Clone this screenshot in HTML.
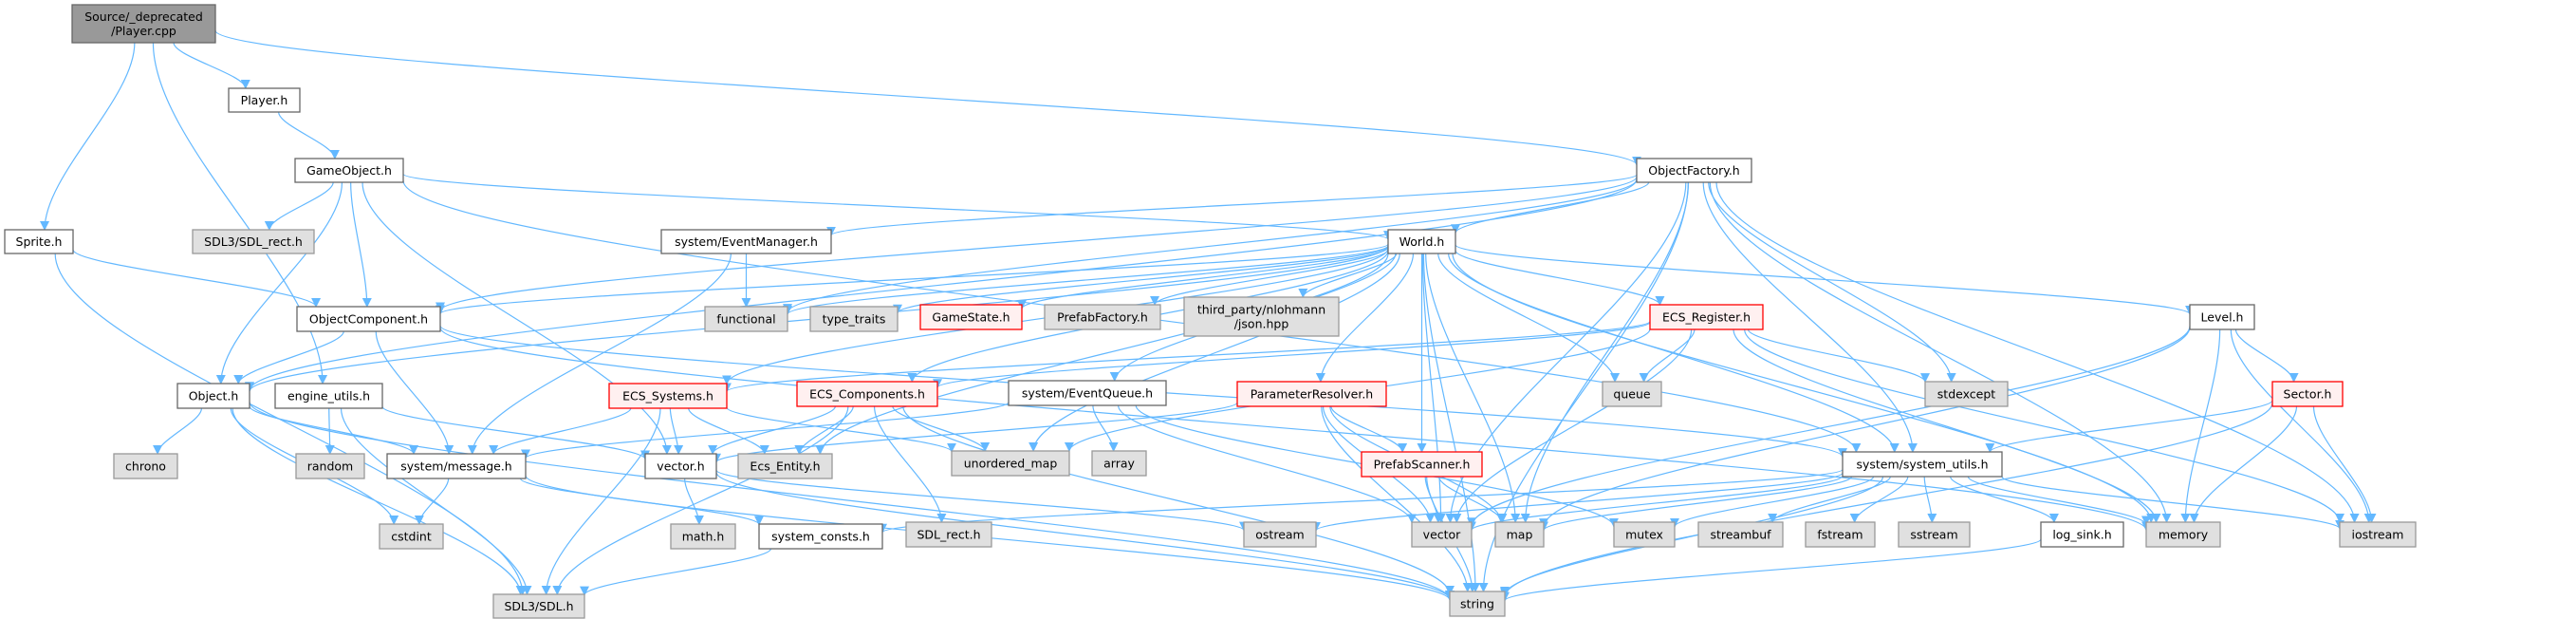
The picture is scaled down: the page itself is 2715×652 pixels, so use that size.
<!DOCTYPE html>
<html><head><meta charset="utf-8"><style>
html,body{margin:0;padding:0;background:#fff;width:2715px;height:652px;overflow:hidden}
svg text{font-family:"DejaVu Sans","Liberation Sans",sans-serif;font-size:12.5px;fill:#000}
</style></head><body>
<svg id="g" width="2715" height="652" xmlns="http://www.w3.org/2000/svg">
<defs><marker id="a" viewBox="0 0 10 10" refX="9" refY="5" markerWidth="10" markerHeight="10" markerUnits="userSpaceOnUse" orient="auto"><path d="M0,0 L10,5 L0,10 z" fill="#63b8ff"/></marker></defs>
<g id="edges" fill="none" stroke="#63b8ff" stroke-width="1.2"></g>
<g id="nodes"></g>
</svg>
<script>
var N={
cpp:[76,5,227,45,"Source/_deprecated|/Player.cpp","r"],
PlayerH:[241,93,316,118,"Player.h","w"],
GO:[311,167,425,192,"GameObject.h","w"],
OF:[1725,167,1846,192,"ObjectFactory.h","w"],
Sprite:[5,242,77,267,"Sprite.h","w"],
SDLrect3:[203,242,331,267,"SDL3/SDL_rect.h","g"],
EvM:[697,242,876,267,"system/EventManager.h","w"],
World:[1463,242,1534,267,"World.h","w"],
OC:[313,323,464,349,"ObjectComponent.h","w"],
functional:[743,323,830,349,"functional","g"],
type_traits:[854,323,946,349,"type_traits","g"],
GameState:[970,321,1077,347,"GameState.h","red"],
PrefabFactory:[1101,321,1223,347,"PrefabFactory.h","g"],
json:[1248,313,1411,354,"third_party/nlohmann|/json.hpp","g"],
ECSReg:[1739,321,1858,347,"ECS_Register.h","red"],
Level:[2308,321,2376,347,"Level.h","w"],
Object:[187,404,263,430,"Object.h","w"],
engine:[290,404,403,430,"engine_utils.h","w"],
ECSSys:[642,404,766,430,"ECS_Systems.h","red"],
ECSComp:[840,402,988,428,"ECS_Components.h","red"],
EvQ:[1063,401,1229,427,"system/EventQueue.h","w"],
ParamRes:[1304,402,1461,428,"ParameterResolver.h","red"],
queue:[1689,402,1751,428,"queue","g"],
stdexcept:[2029,402,2116,428,"stdexcept","g"],
Sector:[2395,402,2469,428,"Sector.h","red"],
chrono:[120,478,187,504,"chrono","g"],
random:[312,478,384,504,"random","g"],
message:[408,478,554,504,"system/message.h","w"],
vectorh:[680,478,755,504,"vector.h","w"],
EcsEntity:[778,478,877,504,"Ecs_Entity.h","g"],
umap:[1003,475,1127,501,"unordered_map","g"],
array:[1151,475,1208,501,"array","g"],
PrefabScanner:[1435,476,1562,502,"PrefabScanner.h","red"],
sysutils:[1942,476,2110,502,"system/system_utils.h","w"],
cstdint:[400,552,467,578,"cstdint","g"],
mathh:[707,552,775,578,"math.h","g"],
sysconsts:[800,552,930,578,"system_consts.h","w"],
SDLrect:[955,550,1045,576,"SDL_rect.h","g"],
ostream:[1311,550,1387,576,"ostream","g"],
vector:[1488,550,1551,576,"vector","g"],
map:[1576,550,1627,576,"map","g"],
mutex:[1701,550,1765,576,"mutex","g"],
streambuf:[1790,550,1879,576,"streambuf","g"],
fstream:[1903,550,1976,576,"fstream","g"],
sstream:[2001,550,2076,576,"sstream","g"],
logsink:[2151,550,2238,576,"log_sink.h","w"],
memory:[2262,550,2340,576,"memory","g"],
iostream:[2466,550,2546,576,"iostream","g"],
SDL:[520,626,616,651,"SDL3/SDL.h","g"],
string:[1528,623,1586,649,"string","g"]
};
var E="cpp>Sprite cpp>engine cpp>PlayerH cpp>OF PlayerH>GO GO>Object GO>SDLrect3 GO>OC GO>vectorh GO>World GO>sysutils Sprite>OC Sprite>SDL OF>World OF>OC OF>Object OF>EvM OF>functional OF>stdexcept OF>sysutils OF>map OF>memory OF>iostream OF>string OF>vector EvM>functional EvM>message World>type_traits World>GameState World>PrefabFactory World>json World>ECSReg World>queue World>Level World>ECSSys World>ECSComp World>EvQ World>ParamRes World>PrefabScanner World>vector World>map World>umap World>functional World>memory World>sysutils World>EcsEntity World>string World>OC World>Object OC>Object OC>message OC>memory OC>sysutils Object>chrono Object>cstdint Object>message Object>string Object>SDL engine>random engine>vectorh engine>SDL ECSSys>message ECSSys>vectorh ECSSys>EcsEntity ECSSys>SDL ECSSys>umap ECSComp>vectorh ECSComp>EcsEntity ECSComp>umap ECSComp>SDLrect ECSComp>string ECSComp>SDL EvQ>array EvQ>vector EvQ>mutex EvQ>message ParamRes>PrefabScanner ParamRes>vector ParamRes>map ParamRes>string ParamRes>vectorh ECSReg>queue ECSReg>stdexcept ECSReg>ECSSys ECSReg>ECSComp ECSReg>umap ECSReg>vector ECSReg>memory ECSReg>iostream Level>Sector Level>memory Level>iostream Level>vector Level>map Sector>sysutils Sector>memory Sector>iostream Sector>string message>cstdint message>sysconsts message>string vectorh>mathh vectorh>ostream vectorh>string sysconsts>SDL PrefabScanner>vector PrefabScanner>map PrefabScanner>string sysutils>vector sysutils>map sysutils>mutex sysutils>streambuf sysutils>fstream sysutils>sstream sysutils>logsink sysutils>memory sysutils>iostream sysutils>string sysutils>ostream sysutils>sysconsts logsink>string".split(" ");
var NS="http://www.w3.org/2000/svg";
function el(t,a,p){var e=document.createElementNS(NS,t);for(var k in a)e.setAttribute(k,a[k]);p.appendChild(e);return e;}
function bp(b,tx,ty){var cx=(b[0]+b[2])/2,cy=(b[1]+b[3])/2,dx=tx-cx,dy=ty-cy,hw=(b[2]-b[0])/2,hh=(b[3]-b[1])/2;
var s=Math.min(dx?hw/Math.abs(dx):1e9,dy?hh/Math.abs(dy):1e9);return [cx+dx*s,cy+dy*s];}
var eg=document.getElementById("edges");
E.forEach(function(s){var p=s.split(">"),a=N[p[0]],b=N[p[1]];
var ax=(a[0]+a[2])/2,ay=(a[1]+a[3])/2,bx=(b[0]+b[2])/2,by=(b[1]+b[3])/2;
var s1=bp(a,bx,by),s2=bp(b,ax,ay);var my=(s1[1]+s2[1])/2;
var d="M"+s1[0]+","+s1[1]+" C"+s1[0]+","+(s1[1]+(s2[1]-s1[1])*0.3)+" "+s2[0]+","+(s2[1]-(s2[1]-s1[1])*0.3)+" "+s2[0]+","+s2[1];
el("path",{d:d,"marker-end":"url(#a)"},eg);});
var ng=document.getElementById("nodes");
for(var k in N){var n=N[k],f,st;
if(n[5]=="r"){f="#999999";st="#666666";}else if(n[5]=="g"){f="#e0e0e0";st="#999999";}else if(n[5]=="red"){f="#fff0f0";st="#ff0000";}else{f="#ffffff";st="#666666";}
el("rect",{x:n[0],y:n[1],width:n[2]-n[0],height:n[3]-n[1],fill:f,stroke:st,"stroke-width":1.3},ng);
var ls=n[4].split("|"),cx=(n[0]+n[2])/2,cy=(n[1]+n[3])/2;
ls.forEach(function(l,i){var t=el("text",{x:cx,y:cy+4.5+(i-(ls.length-1)/2)*15,"text-anchor":"middle"},ng);t.textContent=l;});}
</script>
</body></html>
